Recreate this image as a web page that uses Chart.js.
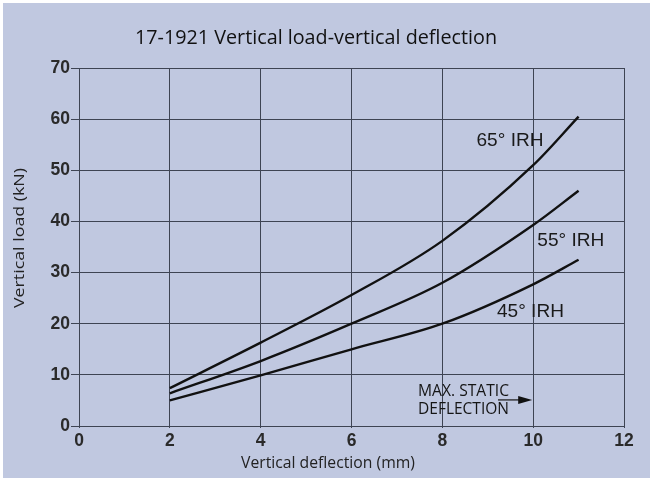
<!DOCTYPE html>
<html>
<head>
<meta charset="utf-8">
<script src="https://cdn.jsdelivr.net/npm/chart.js@4/dist/chart.umd.min.js"></script>
<style>
  html, body { margin: 0; padding: 0; background: #ffffff; }
  #wrap { position: absolute; left: 0; top: 0; width: 650px; height: 478px; }
  canvas { display: block; }
</style>
</head>
<body>
<div id="wrap"><canvas id="c" width="650" height="478"></canvas></div>
<script>
const deflection = [2, 4, 6, 8, 10, 11];
const irh65 = [7.4, 16.3, 25.6, 36.2, 51.0, 60.5];
const irh55 = [6.4, 12.7, 20.0, 28.0, 39.3, 46.0];
const irh45 = [5.0, 9.9, 15.0, 20.0, 27.7, 32.5];
const seriesLabels = ["65° IRH", "55° IRH", "45° IRH"];
const xTicks = [0, 2, 4, 6, 8, 10, 12];
const yTicks = [0, 10, 20, 30, 40, 50, 60, 70];
const titleText = "17-1921 Vertical load-vertical deflection";
const xTitle = "Vertical deflection (mm)";
const yTitle = "Vertical load (kN)";
const noteLines = ["MAX. STATIC", "DEFLECTION"];
const noteAt = { x: 10, y: 5.1 };
// label anchor positions in data units
const labelPos = [{ x: 9.49, y: 55.7 }, { x: 10.83, y: 36.2 }, { x: 9.94, y: 22.3 }];

const BG = "#c0c8e0";
const GRID = "#3e4453";
const TXT = "#252525";
const SANS = "'Open Sans', 'Noto Sans', sans-serif";
const ARIAL = "'Liberation Sans', Arial, sans-serif";

const toPts = arr => deflection.map((x, i) => ({ x: x, y: arr[i] }));

// draw text fitted to a target width (horizontal scaling), centred at cx
function fitText(c, txt, cx, cy, size, family, target, align) {
  c.font = size + "px " + family;
  const w = c.measureText(txt).width;
  const k = target / w;
  c.save();
  c.translate(cx, cy);
  c.scale(k, 1);
  c.textAlign = align || "center";
  c.textBaseline = "middle";
  c.fillText(txt, 0, 0);
  c.restore();
}

const decor = {
  id: "decor",
  beforeDraw(chart) {
    const c = chart.ctx;
    c.save();
    c.fillStyle = "#ffffff";
    c.fillRect(0, 0, 650, 478);
    c.fillStyle = BG;
    c.fillRect(3, 3, 647, 475);
    c.restore();
  },
  afterDraw(chart) {
    const c = chart.ctx;
    const xs = chart.scales.x, ys = chart.scales.y;
    c.save();
    // title
    c.fillStyle = "#111";
    fitText(c, titleText, 316, 38, 19.5, SANS, 362);
    // axis titles
    c.fillStyle = "#222";
    fitText(c, xTitle, 328, 464, 15.5, SANS, 174);
    c.save();
    c.translate(20, 238);
    c.rotate(-Math.PI / 2);
    fitText(c, yTitle, 0, 0, 15, SANS, 140);
    c.restore();
    // series labels
    c.fillStyle = "#1a1a1a";
    labelPos.forEach((p, i) => {
      fitText(c, seriesLabels[i], xs.getPixelForValue(p.x), ys.getPixelForValue(p.y), 18, ARIAL, 67);
    });
    // note
    const nx = xs.getPixelForValue(noteAt.x);
    const ny = ys.getPixelForValue(noteAt.y);
    c.fillStyle = "#151515";
    fitText(c, noteLines[0], 418, ny - 9, 16.5, SANS, 91, "left");
    fitText(c, noteLines[1], 418, ny + 9.5, 16.5, SANS, 91, "left");
    // arrow
    c.strokeStyle = "#222";
    c.lineWidth = 1.3;
    c.beginPath();
    c.moveTo(498, ny);
    c.lineTo(nx - 10, ny);
    c.stroke();
    c.fillStyle = "#111";
    c.beginPath();
    c.moveTo(nx - 1, ny);
    c.lineTo(nx - 15, ny - 4);
    c.lineTo(nx - 15, ny + 4);
    c.closePath();
    c.fill();
    c.restore();
  }
};

const mk = (label, arr) => ({
  label: label,
  data: toPts(arr),
  borderColor: "#111111",
  borderWidth: 2.4,
  pointRadius: 0,
  fill: false,
  cubicInterpolationMode: "monotone"
});

new Chart(document.getElementById("c"), {
  type: "line",
  data: {
    datasets: [mk(seriesLabels[0], irh65), mk(seriesLabels[1], irh55), mk(seriesLabels[2], irh45)]
  },
  options: {
    responsive: false,
    animation: false,
    layout: { padding: { top: 68, right: 26, left: 0, bottom: 0 } },
    plugins: { legend: { display: false }, tooltip: { enabled: false }, title: { display: false } },
    scales: {
      x: {
        type: "linear",
        min: 0, max: 12,
        afterBuildTicks: s => { s.ticks = xTicks.map(v => ({ value: v })); },
        afterFit: s => { s.height = 52; },
        grid: { color: GRID, lineWidth: 1, tickLength: 2, drawTicks: true },
        border: { color: GRID, width: 1 },
        ticks: { color: "#2a2a2a", font: { family: ARIAL, size: 17.5, weight: "bold" }, padding: 3, maxRotation: 0 }
      },
      y: {
        type: "linear",
        min: 0, max: 70,
        afterBuildTicks: s => { s.ticks = yTicks.map(v => ({ value: v })); },
        afterFit: s => { s.width = 79; },
        grid: { color: GRID, lineWidth: 1, tickLength: 8, drawTicks: true },
        border: { color: GRID, width: 1 },
        ticks: { color: "#2a2a2a", font: { family: ARIAL, size: 17.5, weight: "bold" }, padding: 1 }
      }
    }
  },
  plugins: [decor]
});
</script>
</body>
</html>
